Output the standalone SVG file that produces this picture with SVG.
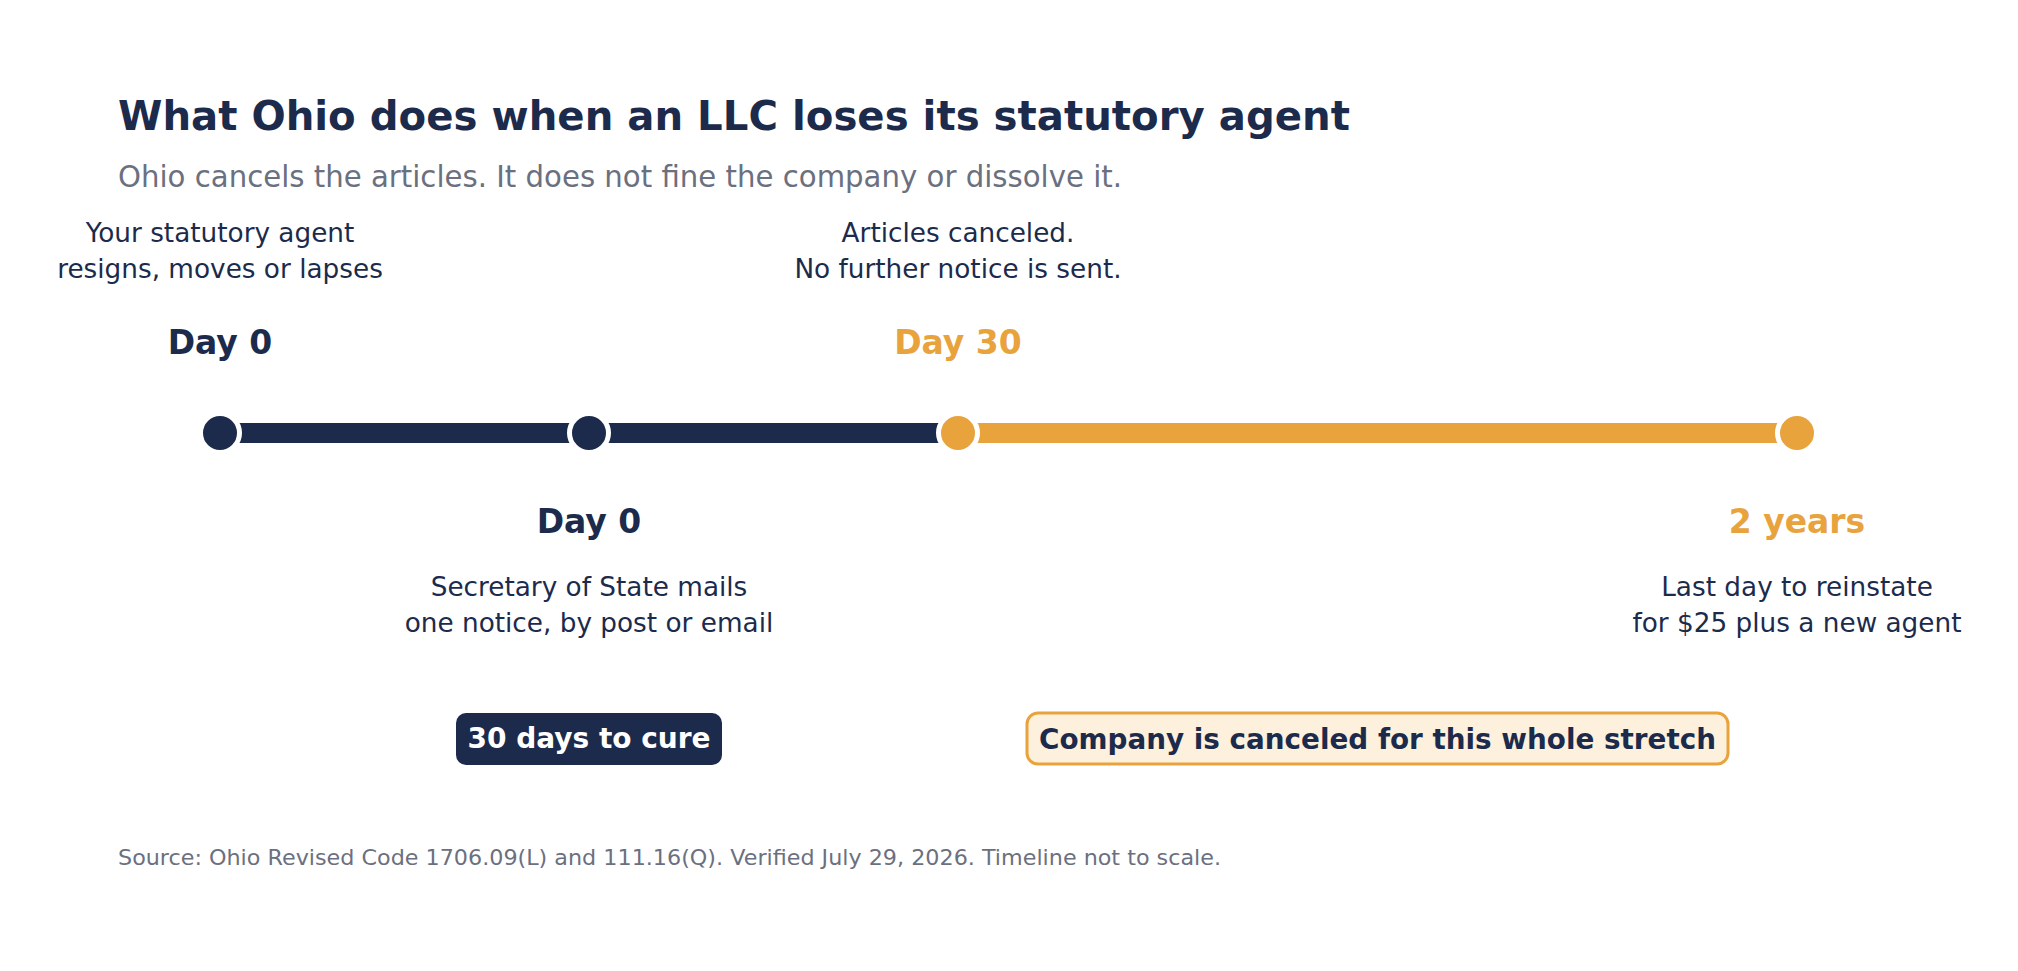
<svg xmlns="http://www.w3.org/2000/svg" width="2018" height="971" viewBox="0 0 2018 971">
  <style>
    text { font-family: "DejaVu Sans", "Noto Sans", sans-serif; }
    .title { font-size: 40px; font-weight: bold; fill: #1c2b4b; }
    .sub { font-size: 29.5px; fill: #6b7080; }
    .src { font-size: 21px; fill: #6b7080; }
    .desc { font-size: 26.3px; fill: #1c2b4b; text-anchor: middle; }
    .day { font-size: 33px; font-weight: bold; text-anchor: middle; }
    .navy { fill: #1c2b4b; }
    .orange { fill: #e8a33d; }
    .badge { font-size: 28px; font-weight: bold; text-anchor: middle; }
    .dot { stroke: #ffffff; stroke-width: 5; }
  </style>
  <rect width="2018" height="971" fill="#ffffff"/>
  <text class="title" x="118" y="130" textLength="1232" lengthAdjust="spacingAndGlyphs">What Ohio does when an LLC loses its statutory agent</text>
  <text class="sub" x="118" y="187" textLength="1004" lengthAdjust="spacingAndGlyphs">Ohio cancels the articles. It does not fine the company or dissolve it.</text>

  <g id="connectors">
    <line x1="220" y1="433" x2="958" y2="433" stroke="#1c2b4b" stroke-width="20"/>
    <line x1="958" y1="433" x2="1797" y2="433" stroke="#e8a33d" stroke-width="20"/>
  </g>

  <g id="node-agent-lapses">
    <text class="desc" x="220" y="242">Your statutory agent</text>
    <text class="desc" x="220" y="278">resigns, moves or lapses</text>
    <text class="day navy" x="220" y="354">Day 0</text>
    <circle class="dot navy" cx="220" cy="433" r="19.5"/>
  </g>

  <g id="node-notice">
    <circle class="dot navy" cx="589" cy="433" r="19.5"/>
    <text class="day navy" x="589" y="533">Day 0</text>
    <text class="desc" x="589" y="596">Secretary of State mails</text>
    <text class="desc" x="589" y="632">one notice, by post or email</text>
  </g>

  <g id="node-canceled">
    <text class="desc" x="958" y="242">Articles canceled.</text>
    <text class="desc" x="958" y="278">No further notice is sent.</text>
    <text class="day orange" x="958" y="354">Day 30</text>
    <circle class="dot orange" cx="958" cy="433" r="19.5"/>
  </g>

  <g id="node-reinstate">
    <circle class="dot orange" cx="1797" cy="433" r="19.5"/>
    <text class="day orange" x="1797" y="533">2 years</text>
    <text class="desc" x="1797" y="596">Last day to reinstate</text>
    <text class="desc" x="1797" y="632">for $25 plus a new agent</text>
  </g>

  <g id="badge-cure">
    <rect x="456" y="713" width="266" height="52" rx="10" fill="#1c2b4b"/>
    <text class="badge" x="589" y="748" fill="#ffffff">30 days to cure</text>
  </g>

  <g id="badge-canceled">
    <rect x="1027" y="713" width="701" height="51" rx="11" fill="#fdf0dc" stroke="#e8a33d" stroke-width="3"/>
    <text class="badge navy" x="1377.5" y="749" textLength="677" lengthAdjust="spacingAndGlyphs">Company is canceled for this whole stretch</text>
  </g>

  <text class="src" x="118" y="865" textLength="1103" lengthAdjust="spacingAndGlyphs">Source: Ohio Revised Code 1706.09(L) and 111.16(Q). Verified July 29, 2026. Timeline not to scale.</text>
</svg>
